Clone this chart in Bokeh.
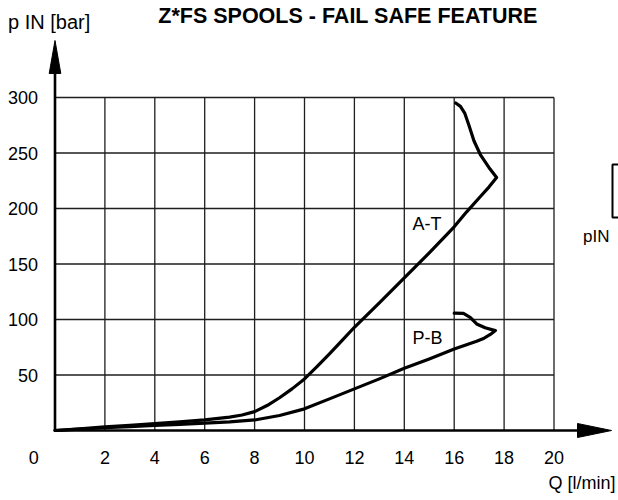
from bokeh.plotting import figure
from bokeh.models import Range1d, FixedTicker, LinearAxis
from bokeh.core.properties import value
from bokeh.embed import file_html
from bokeh.resources import INLINE

# ---------------- data ----------------
x_ticks = [2, 4, 6, 8, 10, 12, 14, 16, 18, 20]
y_ticks = [50, 100, 150, 200, 250, 300]

# A-T curve  (Q [l/min], p IN [bar])
at_q = [0, 1, 2, 3, 4, 5, 6, 7, 7.5, 8, 8.5, 9, 9.5, 10, 10.5, 11, 11.5, 12,
        13, 14, 15, 16, 16.5, 17.06, 17.4, 17.7,
        17.39, 17.06, 16.79, 16.59, 16.42, 16.25, 16.06]
at_p = [0, 1.6, 3.2, 4.7, 6.2, 7.8, 9.6, 12.0, 14.0, 17, 22.5, 29.5, 37.5, 46.5, 57.5, 69, 81, 93,
        115, 137.5, 160, 183.5, 197, 211, 219.5, 228,
        237, 248, 261, 275, 286, 292, 295]

# P-B curve
pb_q = [0, 1, 2, 3, 4, 5, 6, 7, 8, 9, 10, 11, 12, 13, 14, 15, 16, 16.9, 17.2, 17.45, 17.65,
        17.24, 16.9, 16.64, 16.37, 16.0]
pb_p = [0, 1.3, 2.5, 3.5, 4.5, 5.5, 6.6, 7.8, 9.5, 13.5, 19.5, 28.5, 37.5, 46.5, 56, 64.5, 73.5,
        80.5, 83.2, 86.5, 90,
        92.5, 96, 102, 105.5, 105.7]

curve_labels = ["A-T", "P-B"]
title_text = "Z*FS SPOOLS - FAIL SAFE FEATURE"
y_title = "p IN [bar]"
x_title = "Q [l/min]"
zero_label = "0"
side_label = "pIN"

# ---------------- layout (pixel geometry of the canvas) ----------------
W, H = 618, 500
X0PX, Y0PX = 54.5, 430.0      # canvas position of the data origin
PXX, PXY = 24.95, 1.11        # pixels per unit on x and y
FONT = "Liberation Sans"

def X(px):
    return (px - X0PX) / PXX

def Y(py):
    return (Y0PX - py) / PXY

p = figure(width=W, height=H, output_backend="svg", toolbar_location=None,
           x_range=Range1d(X(0), X(W)), y_range=Range1d(Y(H), Y(0)),
           min_border=0, x_axis_location=None, y_axis_location=None)
p.outline_line_color = None
p.grid.visible = False
p.background_fill_color = "white"
p.border_fill_color = "white"

xax = LinearAxis(fixed_location=0, ticker=FixedTicker(ticks=x_ticks))
yax = LinearAxis(fixed_location=0, ticker=FixedTicker(ticks=y_ticks))
p.add_layout(xax, "below")
p.add_layout(yax, "left")
for ax in (xax, yax):
    ax.major_tick_out = 0
    ax.major_tick_in = 0
    ax.minor_tick_out = 0
    ax.minor_tick_in = 0
    ax.axis_line_color = None
    ax.major_label_text_font = FONT
    ax.major_label_text_font_size = "18px"
    ax.major_label_text_color = "black"
yax.major_label_standoff = 17
xax.major_label_standoff = 20

# grid (only inside 0..20 x 0..300)
xmax, ymax = x_ticks[-1], y_ticks[-1]
p.segment(x0=x_ticks, y0=[0] * len(x_ticks), x1=x_ticks, y1=[ymax] * len(x_ticks),
          line_color="#1e1e1e", line_width=1.3)
p.segment(x0=[0] * len(y_ticks), y0=y_ticks, x1=[xmax] * len(y_ticks), y1=y_ticks,
          line_color="#1e1e1e", line_width=1.3)

# axis lines with arrow heads
y_tip, y_base = Y(40), Y(73)
x_tip, x_base = X(611), X(577)
p.segment(x0=[0, 0], y0=[0, 0], x1=[0, x_base], y1=[y_base, 0], line_color="black", line_width=2.6)
hw = 5.8 / PXX
hh = 7.0 / PXY
p.patch([0, -hw, hw], [y_tip, y_base, y_base], fill_color="black", line_color="black", line_width=1)
p.patch([x_tip, x_base, x_base], [0, hh, -hh], fill_color="black", line_color="black", line_width=1)

# curves
p.line(at_q, at_p, line_color="black", line_width=3.2, line_join="round", line_cap="round")
p.line(pb_q, pb_p, line_color="black", line_width=3.2, line_join="round", line_cap="round")

# texts (positioned at the centre of their capitals)
def txt(x, y, t, size, align="left", style="normal"):
    p.text(x=[x], y=[y], text=[t], text_font=value(FONT), text_font_size=size,
           text_align=align, text_baseline="middle", text_font_style=style, text_color="black")

txt(X(412), Y(223.4), curve_labels[0], "18px")
txt(X(412), Y(337.2), curve_labels[1], "18px")
txt(X(33.3), Y(456.5), zero_label, "18px", align="center")
txt(X(347.5), Y(15.8), title_text, "21.5px", align="center", style="bold")
txt(X(7.5), Y(21.0), y_title, "20px")
txt(X(615), Y(482), x_title, "18px", align="right")
txt(X(582.5), Y(236), side_label, "17px")

# cut-off bracket at the right border
p.line([X(630), X(612), X(612), X(630)], [Y(164), Y(164), Y(217), Y(217)],
       line_color="black", line_width=2)

open("out.html", "w").write(file_html(p, INLINE))
